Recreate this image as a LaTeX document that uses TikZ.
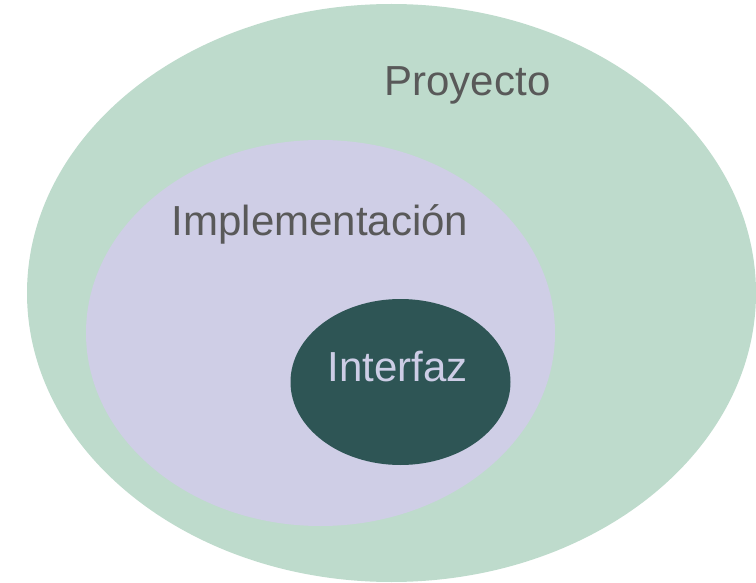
\documentclass[tikz,border=0pt]{standalone}
\usepackage{fontspec}
\setmainfont{Liberation Sans}
\usetikzlibrary{shapes.geometric}
\definecolor{outergreen}{HTML}{BEDBCC}
\definecolor{midlav}{HTML}{CFCEE6}
\definecolor{innerteal}{HTML}{2E5555}
\definecolor{labelgray}{HTML}{595959}
\definecolor{lightlabel}{HTML}{CDCDE6}
\tikzset{
  blob/.style={ellipse, draw=none, inner sep=0pt, outer sep=0pt},
  lbl/.style={anchor=base, inner sep=0pt, font=\fontsize{42}{50}\selectfont}
}
\begin{document}
\begin{tikzpicture}[x=1pt, y=-1pt]
\useasboundingbox (0,0) rectangle (756,583);
\node[blob, fill=outergreen, minimum width=729pt, minimum height=578pt] (proyecto) at (391.5,293) {};
\node[blob, fill=midlav, minimum width=469pt, minimum height=386pt] (impl) at (320.5,333) {};
\node[blob, fill=innerteal, minimum width=220pt, minimum height=166pt] (interfaz) at (400.5,382) {};
\node[lbl, text=labelgray] (tproyecto) at (467.5,96) {Proyecto};
\node[lbl, text=labelgray] (timpl) at (320,236) {Implementación};
\node[lbl, text=lightlabel] (tinterfaz) at (397.5,381) {Interfaz};
\end{tikzpicture}
\end{document}
